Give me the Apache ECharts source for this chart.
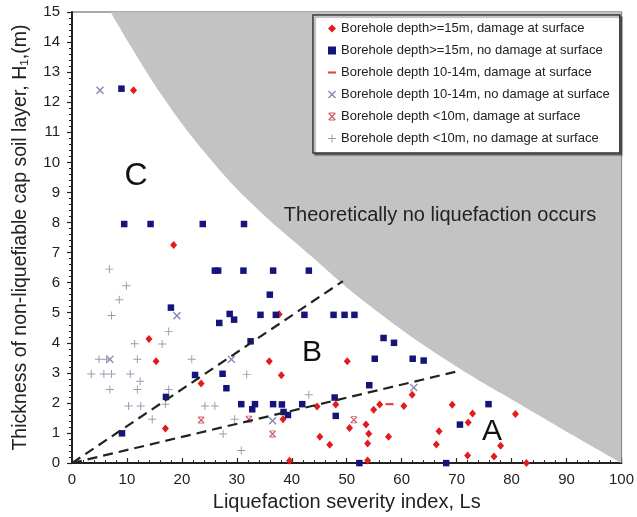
<!DOCTYPE html>
<html><head><meta charset="utf-8">
<script src="https://cdn.jsdelivr.net/npm/echarts@6/dist/echarts.min.js"></script>
<style>html,body{margin:0;padding:0;background:#fff}#c{width:637px;height:517px}</style>
</head><body><div id="c"></div><script>
// ---- tick labels ----
const xTicks = [0,10,20,30,40,50,60,70,80,90,100];
const yTicks = [0,1,2,3,4,5,6,7,8,9,10,11,12,13,14,15];

// ---- series names ----
const seriesNames = [
  'Borehole depth>=15m, damage at surface',
  'Borehole depth>=15m, no damage at surface',
  'Borehole depth 10-14m, damage at surface',
  'Borehole depth 10-14m, no damage at surface',
  'Borehole depth <10m, damage at surface',
  'Borehole depth <10m, no damage at surface'
];

// ---- data [Ls, H1] ----
const deep15Damage = [
  [11.2,12.4],[18.5,7.25],[14.0,4.13],[15.3,3.39],[23.5,2.65],[17.0,1.15],
  [37.7,4.95],[35.9,3.39],[50.1,3.39],[38.1,2.92],[61.9,2.27],[44.6,1.88],
  [48.0,1.95],[56.0,1.95],[54.9,1.77],[60.4,1.9],[38.4,1.46],[53.5,1.28],
  [50.5,1.17],[54.0,0.98],[57.6,0.88],[45.1,0.88],[46.9,0.61],[53.8,0.65],
  [66.8,1.06],[66.3,0.62],[39.6,0.08],[53.8,0.09],[69.2,1.94],[72.9,1.65],
  [72.1,1.35],[80.7,1.63],[78.0,0.58],[72.0,0.25],[76.8,0.22],[82.7,0.0]
];
const deep15NoDamage = [
  [9.0,12.45],[9.5,7.95],[14.3,7.95],[23.8,7.95],[31.3,7.95],
  [26.0,6.4],[26.6,6.4],[31.2,6.4],[36.6,6.4],[43.1,6.4],[36.0,5.6],
  [18.0,5.17],[26.8,4.66],[28.7,4.96],[29.5,4.77],
  [34.3,4.93],[37.1,4.93],[42.3,4.93],[47.6,4.93],[49.6,4.93],[51.4,4.93],
  [32.5,4.05],[22.4,2.93],[27.4,2.97],[28.1,2.49],[17.1,2.2],
  [30.8,1.96],[32.8,1.79],[33.3,1.96],[9.1,0.99],
  [56.7,4.16],[58.6,4.0],[55.1,3.47],[62.0,3.47],[64.0,3.41],[54.1,2.59],
  [36.6,1.96],[38.2,1.95],[41.9,1.96],[47.8,2.18],[38.5,1.7],[39.3,1.6],
  [48.0,1.57],[52.3,0.0],[68.1,0.0],[75.8,1.96],[70.6,1.28]
];
const mid10to14Damage = [[57.8,1.96]];
const mid10to14NoDamage = [[5.1,12.4],[19.1,4.9],[6.9,3.45],[29.0,3.45],[62.2,2.51],[36.5,1.41]];
const shallowDamage = [[23.5,1.43],[32.2,1.46],[36.5,0.97],[51.3,1.44]];
const shallowNoDamage = [
  [6.8,6.45],[9.9,5.9],[8.6,5.43],[7.2,4.91],[17.6,4.38],[11.4,3.97],[16.4,3.96],
  [4.9,3.45],[6.3,3.45],[11.9,3.45],[21.8,3.45],[3.5,2.96],[5.8,2.96],[7.2,2.96],
  [10.6,2.96],[31.8,2.95],[12.4,2.72],[6.9,2.45],[11.9,2.45],[17.6,2.45],
  [10.3,1.9],[12.5,1.9],[24.2,1.9],[26.0,1.9],[17.0,1.96],[14.6,1.46],[29.6,1.46],
  [27.5,0.97],[30.8,0.42],[43.1,2.27]
];

// ---- boundary of "no liquefaction" zone and zone dividers ----
const boundaryCurve = [[7.0,15],[16.1,12.3],[24.3,10.3],[32.3,8.7],[43.4,6.9],[53.0,5.4],[67.5,3.5],[82.5,1.85],[100,0]];
const dividerBC = [[0,0],[49.3,6.05]];
const dividerAB = [[0,0],[70.8,3.08]];

const FONT = 'Liberation Sans, Arial, sans-serif';
const P_X = 'path://M0 1.2L1.2 0L5 3.8L8.8 0L10 1.2L6.2 5L10 8.8L8.8 10L5 6.2L1.2 10L0 8.8L3.8 5Z';
const P_XB = 'path://M0 1.4L1.2 0.2L5 4L8.8 0.2L10 1.4L6.2 5.2L10 9L8.8 10.2L5 6.4L1.2 10.2L0 9L3.8 5.2Z M1 0H9V1.2H1Z M1 9.2H9V10.4H1Z';
const P_PLUS = 'path://M4.4 0H5.6V4.4H10V5.6H5.6V10H4.4V5.6H0V4.4H4.4Z';
const P_DASH = 'path://M0 0H10V2.6H0Z';

const chart = echarts.init(document.getElementById('c'), null, {renderer:'canvas'});
const dashed = {color:'#222', width:2.2, type:[10,6]};
const solid = (c) => ({color:c, opacity:1});
chart.setOption({
  animation:false,
  backgroundColor:'#fff',
  grid:{left:72, right:15, top:12, bottom:51, show:true, borderColor:'#555', borderWidth:1.2},
  xAxis:{type:'value', min:xTicks[0], max:xTicks[xTicks.length-1], interval:xTicks[1]-xTicks[0],
    name:'Liquefaction severity index, Ls', nameLocation:'middle', nameGap:26,
    nameTextStyle:{fontSize:20, color:'#222', fontFamily:FONT},
    axisLine:{lineStyle:{color:'#222', width:2}},
    axisTick:{inside:true, length:5, lineStyle:{color:'#222', width:1.2}},
    minorTick:{show:true, splitNumber:5, length:3, lineStyle:{color:'#222'}},
    splitLine:{show:false},
    axisLabel:{fontSize:15, color:'#222', margin:9, fontFamily:FONT}},
  yAxis:{type:'value', min:yTicks[0], max:yTicks[yTicks.length-1], interval:yTicks[1]-yTicks[0],
    name:'Thickness of non-liquefiable cap soil layer, H\u2081,(m)', nameLocation:'middle', nameGap:41,
    nameTextStyle:{fontSize:19.5, color:'#222', fontFamily:FONT},
    axisLine:{lineStyle:{color:'#222', width:2}},
    axisTick:{length:5, lineStyle:{color:'#222', width:1.2}},
    minorTick:{show:true, splitNumber:5, length:3, lineStyle:{color:'#222'}},
    splitLine:{show:false},
    axisLabel:{fontSize:15, color:'#222', margin:12, fontFamily:FONT}},
  legend:{orient:'vertical', left:313, top:15, itemWidth:8, itemHeight:8, itemGap:9,
    padding:[7,10,8,15], backgroundColor:'#fff', borderColor:'#333', borderWidth:1.5,
    shadowColor:'rgba(0,0,0,0.35)', shadowOffsetX:2, shadowOffsetY:2, shadowBlur:1,
    textStyle:{fontSize:13, color:'#222', fontFamily:FONT}, data:seriesNames},
  series:[
    {type:'line', name:'zone', data:boundaryCurve, smooth:0.4, symbol:'none', silent:true, z:1,
     lineStyle:{width:0}, areaStyle:{color:'#c3c3c3', opacity:1, origin:'end'}},
    {type:'scatter', name:seriesNames[0], data:deep15Damage, symbol:'diamond', symbolSize:[7,8], itemStyle:solid('#e41a1c'), z:3},
    {type:'scatter', name:seriesNames[1], data:deep15NoDamage, symbol:'rect', symbolSize:6.5, itemStyle:solid('#14147a'), z:4},
    {type:'scatter', name:seriesNames[2], data:mid10to14Damage, symbol:P_DASH, symbolSize:[8,2.2], itemStyle:solid('#e8413f'), z:3},
    {type:'scatter', name:seriesNames[3], data:mid10to14NoDamage, symbol:P_X, symbolSize:8, itemStyle:solid('#8088b2'), z:3},
    {type:'scatter', name:seriesNames[4], data:shallowDamage, symbol:P_XB, symbolSize:7, itemStyle:solid('#cf5a6a'), z:3},
    {type:'scatter', name:seriesNames[5], data:shallowNoDamage, symbol:P_PLUS, symbolSize:8, itemStyle:solid('#9a9ab0'), z:3},
    {type:'line', name:'BC', data:dividerBC, symbol:'none', lineStyle:dashed, silent:true, z:5},
    {type:'line', name:'AB', data:dividerAB, symbol:'none', lineStyle:dashed, silent:true, z:5}
  ],
  graphic:[
    {type:'text', x:136, y:176, z:10, style:{text:'C', font:'32px '+FONT, fill:'#111', align:'center', verticalAlign:'middle'}},
    {type:'text', x:312, y:353, z:10, style:{text:'B', font:'30px '+FONT, fill:'#111', align:'center', verticalAlign:'middle'}},
    {type:'text', x:492, y:432, z:10, style:{text:'A', font:'30px '+FONT, fill:'#111', align:'center', verticalAlign:'middle'}},
    {type:'text', x:440, y:215, z:10, style:{text:'Theoretically no liquefaction occurs', font:'20px '+FONT, fill:'#222', align:'center', verticalAlign:'middle'}}
  ]
});
</script></body></html>
